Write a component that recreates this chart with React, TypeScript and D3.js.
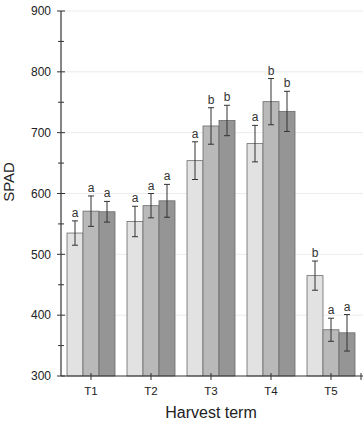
import * as d3 from "d3";

const terms = ["T1", "T2", "T3", "T4", "T5"];
const treatments = ["A", "B", "C"];
const means = [
	[535, 571, 570],
	[554, 580, 588],
	[654, 711, 720],
	[682, 751, 735],
	[465, 376, 371],
];
const errors = [
	[20, 25, 17],
	[25, 20, 27],
	[31, 30, 25],
	[30, 38, 33],
	[24, 19, 30],
];
const letters = [
	["a", "a", "a"],
	["a", "a", "a"],
	["a", "b", "b"],
	["a", "b", "b"],
	["b", "a", "a"],
];
const yTicks = [300, 400, 500, 600, 700, 800, 900];
const yMinorTicks = [350, 450, 550, 650, 750, 850];
const fills = ["#e2e2e2", "#b9b9b9", "#959595"];

function App() {
	const width = 363;
	const height = 423;
	const left = 61;
	const right = 361;
	const top = 11;
	const bottom = 376;

	const x = d3.scaleBand().domain(terms).range([left, right]);
	const inner = d3.scaleBand().domain(treatments).range([0, 48]);
	const y = d3.scaleLinear().domain([300, 900]).range([bottom, top]);
	const font = "Liberation Sans, Arial, sans-serif";

	return (
		<svg
			width={width}
			height={height}
			style={{ position: "absolute", left: 0, top: 0 }}
			fontFamily={font}
		>
			<rect width={width} height={height} fill="#fff" />
			{yTicks.slice(1).map((t) => (
				<line key={t} x1={left} x2={width} y1={y(t)} y2={y(t)} stroke="#ececec" />
			))}
			{terms.map((term, i) => {
				const gx = x(term)! + x.bandwidth() / 2 - 24;
				return (
					<g key={term}>
						{treatments.map((tr, j) => {
							const bx = gx + inner(tr)!;
							const cx = bx + inner.bandwidth() / 2;
							const v = means[i][j];
							const e = errors[i][j];
							return (
								<g key={tr}>
									<rect
										x={bx}
										y={y(v)}
										width={inner.bandwidth()}
										height={bottom - y(v)}
										fill={fills[j]}
										stroke="#6a6a6a"
										strokeWidth={0.8}
									/>
									<line x1={cx} x2={cx} y1={y(v + e)} y2={y(v - e)} stroke="#333" strokeWidth={1} />
									<line x1={cx - 3} x2={cx + 3} y1={y(v + e)} y2={y(v + e)} stroke="#333" strokeWidth={1} />
									<line x1={cx - 3} x2={cx + 3} y1={y(v - e)} y2={y(v - e)} stroke="#333" strokeWidth={1} />
									<text x={cx} y={y(v + e) - 4} textAnchor="middle" fontSize={12} fill="#333">
										{letters[i][j]}
									</text>
								</g>
							);
						})}
					</g>
				);
			})}
			{/* y axis */}
			<line x1={left} x2={left} y1={top} y2={bottom} stroke="#333" strokeWidth={1.2} />
			{yTicks.map((t) => (
				<g key={t}>
					<line x1={left - 4} x2={left + 4} y1={y(t)} y2={y(t)} stroke="#333" />
					<text x={left - 10} y={y(t)} dy="0.35em" textAnchor="end" fontSize={12} fill="#222">
						{t}
					</text>
				</g>
			))}
			{yMinorTicks.map((t) => (
				<line key={t} x1={left - 3} x2={left + 3} y1={y(t)} y2={y(t)} stroke="#333" />
			))}
			{/* x axis */}
			<line x1={left} x2={width} y1={bottom} y2={bottom} stroke="#333" strokeWidth={1.2} />
			{terms.map((t) => {
				const cx = x(t)! + x.bandwidth() / 2;
				return (
					<g key={t}>
						<line x1={cx} x2={cx} y1={bottom - 3} y2={bottom + 4} stroke="#333" />
						<text x={cx} y={bottom + 19} textAnchor="middle" fontSize={11.5} fill="#222">
							{t}
						</text>
					</g>
				);
			})}
			<line x1={right} x2={right} y1={bottom - 3} y2={bottom + 4} stroke="#333" />
			<text
				transform="translate(14, 182) rotate(-90)"
				textAnchor="middle"
				fontSize={15}
				fill="#222"
			>
				SPAD
			</text>
			<text x={211} y={418} textAnchor="middle" fontSize={16} fill="#222">
				Harvest term
			</text>
		</svg>
	);
}

export default App;
